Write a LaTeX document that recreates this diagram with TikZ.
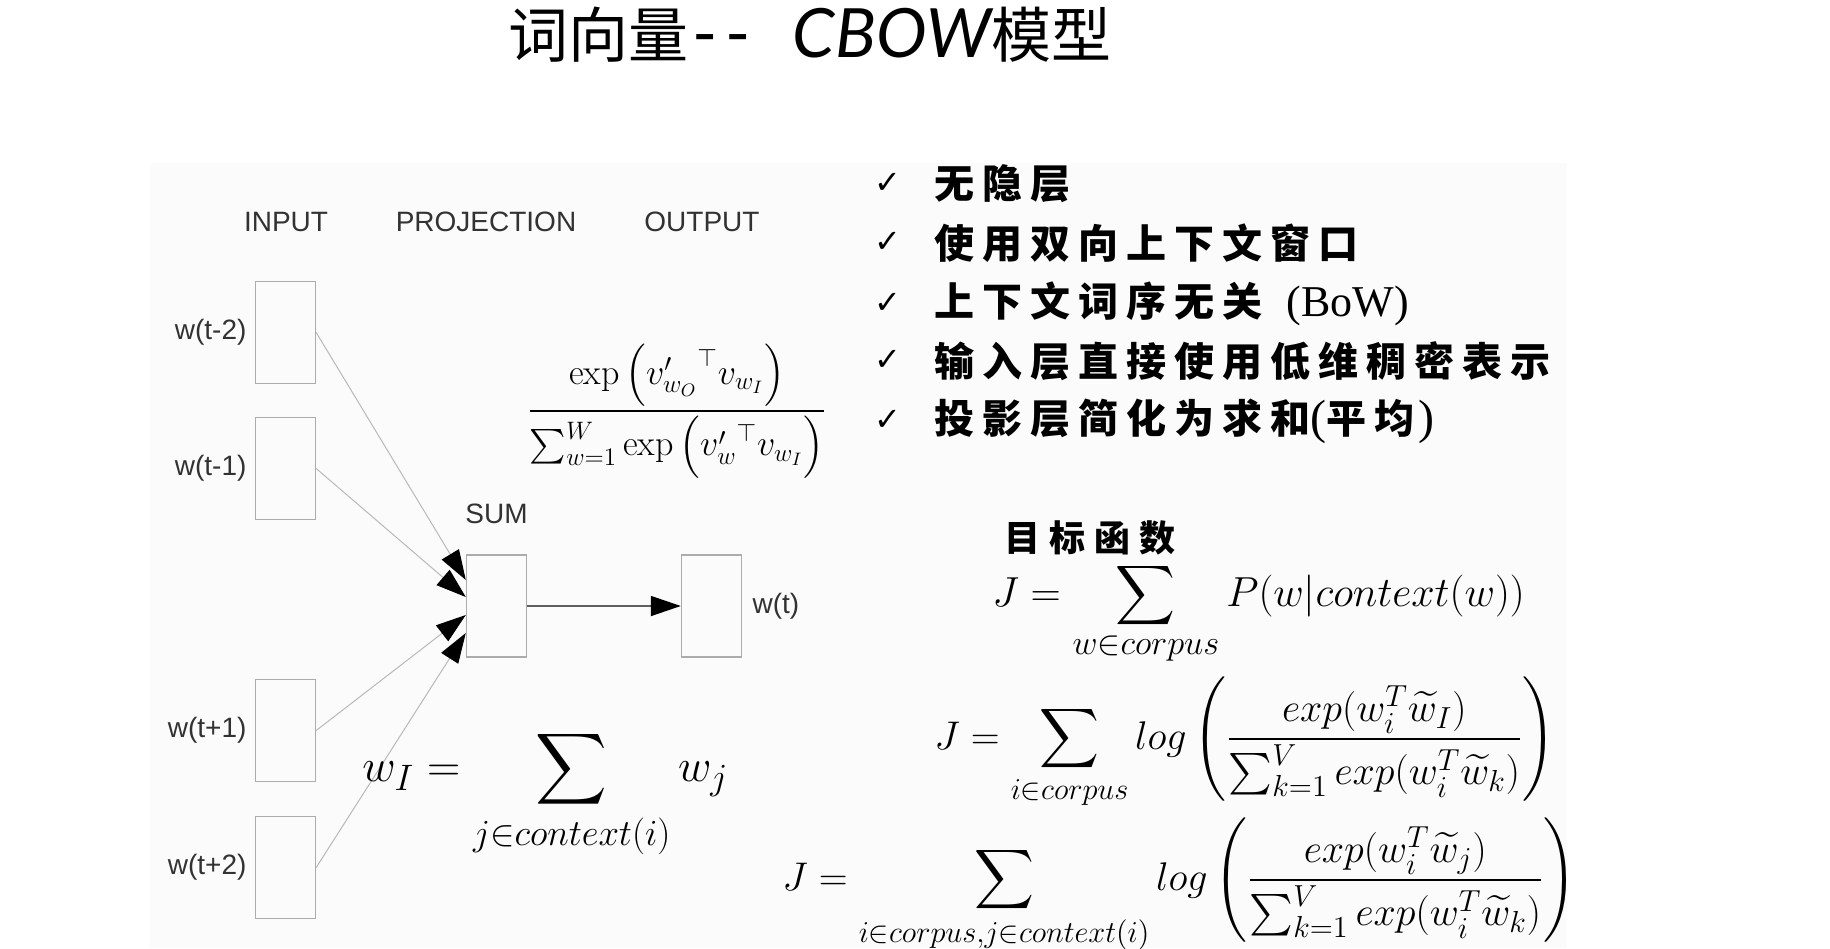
\RequirePackage{fix-cm}
\documentclass[tikz,border=0pt]{standalone}
\usepackage{fontspec}
\usepackage{amsmath}
\usetikzlibrary{arrows.meta, positioning}

\newfontfamily\cjk{Noto Sans CJK SC}
\newfontfamily\helv{Liberation Sans}
\newfontfamily\serif{Liberation Serif}
\newfontfamily\symb{DejaVu Sans}
\newfontfamily\comic{Lato}

% larger limits than usual, as in the slide
\DeclareMathSizes{21}{21}{17.2}{13}
\DeclareMathSizes{20}{20}{15.2}{11.5}
\DeclareMathSizes{23}{23}{18.4}{14}

\definecolor{boxgray}{RGB}{172,172,172}
\definecolor{linegray}{RGB}{185,185,185}
\definecolor{arrowgray}{RGB}{95,95,95}
\definecolor{labelgray}{RGB}{50,50,50}
\definecolor{panel}{RGB}{251,251,251}

\begin{document}
\begin{tikzpicture}[x=0.5pt, y=-0.5pt, node distance={68pt},
	box/.style = {draw=boxgray, line width=0.7pt, minimum width=30pt, minimum height=51pt, inner sep=0pt, on grid},
	lab/.style = {inner sep=0pt, text=labelgray, font=\helv\fontsize{14pt}{16pt}\selectfont},
	feed/.style = {draw=linegray, line width=0.5pt, -{Triangle[length=15pt, width=10pt, black]}},
	item/.style = {anchor=base west, inner sep=0pt, font=\cjk\bfseries\fontsize{20pt}{24pt}\selectfont\addfontfeatures{LetterSpace=20}},
	chk/.style = {inner sep=0pt, font=\symb\fontsize{16pt}{19pt}\selectfont},
	eq/.style = {anchor=base west, inner sep=0pt}]
	\useasboundingbox (0,0) rectangle (1830,948);
	\fill[panel] (150,163) rectangle (1567,948);

	% title
	\node[anchor=west, inner sep=0pt, font=\cjk\fontsize{30pt}{34pt}\selectfont] (title) at (508,35)
	{词向量{\comic\fontsize{34pt}{38pt}\selectfont\kern2pt-\kern4pt-\kern21pt\itshape CBOW}模型};

	% network
	\node[lab] (hin) at (286,222) {INPUT};
	\node[lab] (hproj) at (486,222) {PROJECTION};
	\node[lab] (hout) at (702,222) {OUTPUT};
	\node[box] (in1) at (285.5,332.5) {};
	\node[box] (in2) [below=68pt of in1] {};
	\node[box] (in3) [below=131pt of in2] {};
	\node[box] (in4) [below=68.5pt of in3] {};
	\node[box] (sum) at (496.5,606) {};
	\node[box] (out) [right=107.5pt of sum] {};
	\node[lab] (l1) [left=4pt of in1] {w(t-2)};
	\node[lab] (l2) [left=4pt of in2] {w(t-1)};
	\node[lab] (l3) [left=4pt of in3] {w(t+1)};
	\node[lab] (l4) [left=4pt of in4] {w(t+2)};
	\node[lab] (lsum) [above=15pt of sum] {SUM};
	\node[lab] (lout) [right=5pt of out] {w(t)};
	\path
	(in1.east) edge[feed] ([yshift=13pt]sum.west)
	(in2.east) edge[feed] ([yshift=4.5pt]sum.west)
	(in3.east) edge[feed] ([yshift=-4.5pt]sum.west)
	(in4.east) edge[feed] ([yshift=-13.5pt]sum.west);
	\draw[draw=arrowgray, line width=0.9pt, -{Triangle[length=15pt, width=10pt, black]}] (sum) -- (out);

	% formulas on the left
	\node[eq, font=\fontsize{18pt}{22pt}\selectfont] (soft) at (527,420)
	{$\displaystyle\frac{\exp\left({v'_{w_O}}^{\top} v_{w_I}\right)}{\sum_{w=1}^{W}\exp\left({v'_{w}}^{\top} v_{w_I}\right)}$};
	\node[eq, font=\fontsize{23pt}{26pt}\selectfont] (wsum) at (362,781)
	{$\displaystyle w_I = \sum_{j\in context(i)} w_j$};

	% remarks
	\node[item] (r1) at (934,198) {无隐层};
	\node[item] (r2) at (934,258) {使用双向上下文窗口};
	\node[item] (r3) at (934,316) {上下文词序无关 {\serif\mdseries\fontsize{22pt}{24pt}\selectfont\,(BoW)}};
	\node[item] (r4) at (934,376) {输入层直接使用低维稠密表示};
	\node[item] (r5) at (934,433) {投影层简化为求和{\serif\mdseries\fontsize{24pt}{24pt}\selectfont(}平均{\serif\mdseries\fontsize{24pt}{24pt}\selectfont\kern2pt)}};
	\node[chk] (c1) [left=16pt of r1] {✓};
	\node[chk] (c2) [left=16pt of r2] {✓};
	\node[chk] (c3) [left=16pt of r3] {✓};
	\node[chk] (c4) [left=16pt of r4] {✓};
	\node[chk] (c5) [left=16pt of r5] {✓};

	% objective
	\node[item, font=\cjk\bfseries\fontsize{18pt}{22pt}\selectfont\addfontfeatures{LetterSpace=25}] (goal) at (1004,551) {目标函数};
	\node[eq, font=\fontsize{21pt}{25pt}\selectfont] (j1) at (992,606)
	{$\displaystyle J = \sum_{w\in corpus} P(w|context(w))$};
	\node[eq, font=\fontsize{20pt}{24pt}\selectfont] (j2) at (934,749)
	{$\displaystyle J = \sum_{i\in corpus} log\left(\frac{exp(w_i^T\widetilde{w}_I)}{\sum_{k=1}^{V}exp(w_i^T\widetilde{w}_k)}\right)$};
	\node[eq, font=\fontsize{20pt}{24pt}\selectfont] (j3) at (782,890)
	{$\displaystyle J = \sum_{i\in corpus,j\in context(i)} log\left(\frac{exp(w_i^T\widetilde{w}_j)}{\sum_{k=1}^{V}exp(w_i^T\widetilde{w}_k)}\right)$};
\end{tikzpicture}
\end{document}
